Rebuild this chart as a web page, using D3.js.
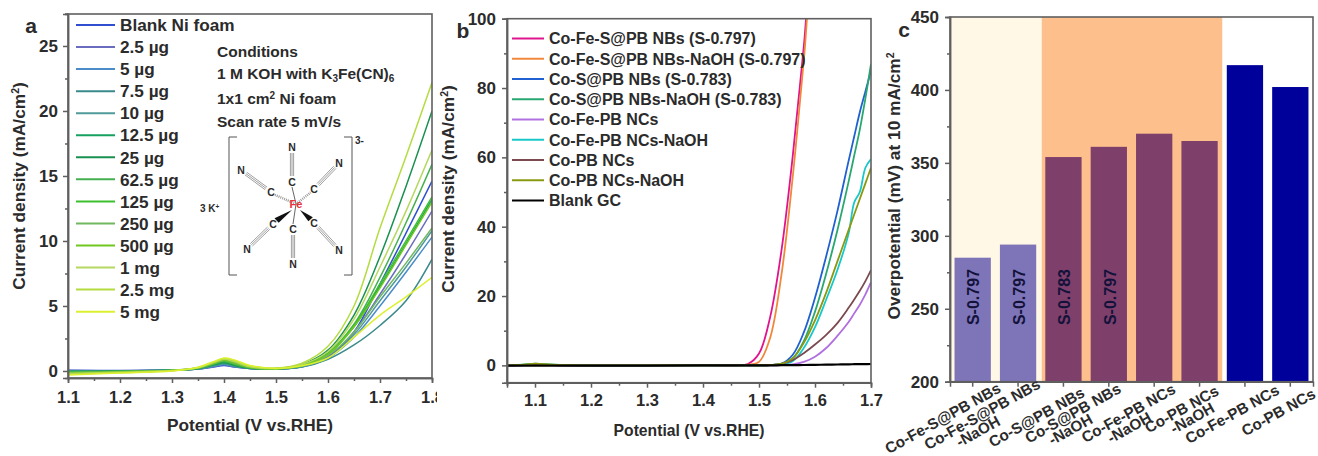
<!DOCTYPE html>
<html>
<head>
<meta charset="utf-8">
<script src="https://cdn.jsdelivr.net/npm/d3@7"></script>
<style>
  body { margin: 0; background: #fff; }
  text { font-family: "Liberation Sans", Arial, sans-serif; font-weight: bold; fill: #2b2b2b; }
  .axis path, .axis line { stroke: #5f5f5f; stroke-width: 1.5; }
  .axis text { font-family: "Liberation Sans", Arial, sans-serif; font-weight: bold; fill: #2b2b2b; }
</style>
</head>
<body>
<div id="chart"></div>
<script>

// Panel a - K3Fe(CN)6 loading series on Ni foam
var potentialA = [1.1, 1.2, 1.3, 1.35, 1.38, 1.4, 1.42, 1.45, 1.5, 1.55, 1.6, 1.65, 1.7, 1.75, 1.8];
var namesA = ["Blank Ni foam", "2.5 µg", "5 µg", "7.5 µg", "10 µg", "12.5 µg", "25 µg", "62.5 µg", "125 µg", "250 µg", "500 µg", "1 mg", "2.5 mg", "5 mg"];
var colorsA = ["#2f4fd0", "#6a6cc0", "#4a8cc8", "#3a8a8c", "#4f9a9a", "#18a060", "#1a9050", "#45b050", "#3cc030", "#70b860", "#70c820", "#b4d860", "#b4dc40", "#dcf030"];
var valuesA = [
  [0.05, 0.03, 0.08, 0.15, 0.3, 0.42, 0.3, 0.2, 0.15, 0.35, 1.0, 3.0, 6.7, 10.6, 14.6],
  [0.03, 0.02, 0.08, 0.15, 0.35, 0.5, 0.32, 0.2, 0.15, 0.35, 1.1, 3.0, 5.9, 9.0, 12.3],
  [0.02, 0.02, 0.08, 0.16, 0.35, 0.5, 0.35, 0.2, 0.15, 0.33, 1.0, 2.6, 5.0, 7.6, 10.3],
  [0.0, 0.01, 0.07, 0.16, 0.4, 0.55, 0.36, 0.2, 0.14, 0.3, 0.9, 2.0, 3.5, 5.4, 8.6],
  [0.0, 0.0, 0.07, 0.17, 0.4, 0.55, 0.38, 0.22, 0.15, 0.33, 1.0, 2.8, 5.4, 8.0, 10.8],
  [-0.03, -0.01, 0.07, 0.18, 0.45, 0.62, 0.42, 0.22, 0.16, 0.4, 1.3, 3.4, 6.5, 9.8, 13.2],
  [-0.05, -0.02, 0.06, 0.2, 0.5, 0.7, 0.45, 0.22, 0.18, 0.5, 1.6, 4.3, 8.8, 14.2, 20.0],
  [-0.07, -0.03, 0.06, 0.2, 0.52, 0.72, 0.5, 0.25, 0.17, 0.45, 1.4, 3.6, 7.2, 11.4, 15.9],
  [-0.1, -0.04, 0.05, 0.22, 0.55, 0.78, 0.55, 0.25, 0.17, 0.42, 1.3, 3.5, 6.7, 10.0, 13.4],
  [-0.12, -0.05, 0.05, 0.22, 0.58, 0.8, 0.6, 0.28, 0.17, 0.4, 1.2, 3.0, 5.7, 8.3, 11.0],
  [-0.15, -0.07, 0.04, 0.25, 0.6, 0.85, 0.65, 0.28, 0.18, 0.42, 1.3, 3.4, 6.4, 9.7, 13.0],
  [-0.2, -0.1, 0.03, 0.25, 0.65, 0.9, 0.72, 0.32, 0.2, 0.5, 1.5, 4.0, 8.0, 12.3, 17.0],
  [-0.25, -0.13, 0.02, 0.27, 0.7, 0.95, 0.8, 0.38, 0.22, 0.6, 1.9, 5.0, 11.0, 16.5, 22.2],
  [-0.3, -0.16, 0.0, 0.28, 0.72, 1.0, 0.85, 0.42, 0.2, 0.4, 1.0, 2.6, 4.3, 5.7, 7.2]
];

// Panel b - LSV curves
var potentialB = [1.05, 1.08, 1.1, 1.13, 1.2, 1.4, 1.48, 1.5, 1.52, 1.54, 1.56, 1.58, 1.6, 1.62, 1.64, 1.66, 1.67, 1.68, 1.69, 1.7];
var namesB = ["Co-Fe-S@PB NBs (S-0.797)", "Co-Fe-S@PB NBs-NaOH (S-0.797)", "Co-S@PB NBs (S-0.783)", "Co-S@PB NBs-NaOH (S-0.783)", "Co-Fe-PB NCs", "Co-Fe-PB NCs-NaOH", "Co-PB NCs", "Co-PB NCs-NaOH", "Blank GC"];
var colorsB = ["#e0148c", "#f0883c", "#2060d0", "#28a870", "#b070e0", "#18c8c8", "#7a4a50", "#8a9a10", "#000000"];
var valuesB = [
  [0, 0.1, 0.2, 0.1, 0, 0.1, 0.4, 3.4, 14, 33, 60, 92, 124, 130, 130, 130, 130, 130, 130, 130],
  [0, 0.1, 0.2, 0.1, 0, 0.1, 0.2, 1.0, 8, 26, 54, 88, 122, 130, 130, 130, 130, 130, 130, 130],
  [0, 0.1, 0.3, 0.1, 0, 0, 0, 0, 0.1, 0.5, 3, 9.5, 19.5, 31.5, 44.5, 59, 66, 73, 79, 85],
  [0, 0.2, 0.5, 0.2, 0, 0, 0, 0, 0.1, 0.4, 2, 7, 15.5, 26.5, 39, 53, 60.5, 68, 77, 87],
  [0, 0.1, 0.2, 0.1, 0, 0, 0, 0, 0, 0.1, 0.3, 1, 2.5, 5, 8.5, 12.5, 15, 17.5, 20.5, 24],
  [0, 0.2, 0.4, 0.2, 0, 0, 0, 0, 0.1, 0.3, 1.2, 5, 11, 19, 27.5, 38, 47, 50, 57, 59.5],
  [0, 0.1, 0.3, 0.1, 0, 0, 0, 0, 0.1, 0.4, 1.5, 3.5, 6, 8.8, 12.2, 16.6, 19, 21.5, 24.3, 27.5],
  [0, 0.2, 0.5, 0.2, 0, 0, 0, 0, 0.1, 0.4, 2, 6.5, 13, 21, 30, 39, 43.5, 48, 52.5, 57],
  [-0.1, -0.1, -0.1, -0.1, -0.1, 0, 0, 0, 0, 0.05, 0.08, 0.1, 0.15, 0.2, 0.25, 0.3, 0.33, 0.35, 0.37, 0.4]
];

// Panel c - overpotential bars
var categoriesC = ["Co-Fe-S@PB NBs", "Co-Fe-S@PB NBs-NaOH", "Co-S@PB NBs", "Co-S@PB NBs-NaOH", "Co-Fe-PB NCs-NaOH", "Co-PB NCs-NaOH", "Co-Fe-PB NCs", "Co-PB NCs"];
var overpotentials = [285, 294, 354, 361, 370, 365, 417, 402];
var barNotes = ["S-0.797", "S-0.797", "S-0.783", "S-0.797", "", "", "", ""];
var barColors = ["#7e74b8", "#7e74b8", "#7f3f6b", "#7f3f6b", "#7f3f6b", "#7f3f6b", "#00009a", "#00009a"];

var svg = d3.select("#chart").append("svg")
  .attr("width", 1318)
  .attr("height", 456);

var defs = svg.append("defs");

// draws the frame, ticks (major + minor) and returns nothing
function drawFrame(g, w, h, xScale, yScale, xMajor, xMinor, yMajor, yMinor, xFormat, xPad, yPad) {
  g.append("g").attr("class", "axis")
    .attr("transform", `translate(0, ${h})`)
    .call(d3.axisBottom(xScale).tickValues(xMinor).tickSize(3).tickFormat(""));
  g.append("g").attr("class", "axis")
    .call(d3.axisLeft(yScale).tickValues(yMinor).tickSize(3).tickFormat(""));

  var xAxis = g.append("g").attr("class", "axis")
    .attr("transform", `translate(0, ${h})`)
    .call(d3.axisBottom(xScale).tickValues(xMajor).tickSize(5).tickPadding(xPad).tickFormat(xFormat));
  xAxis.selectAll("text").style("font-size", "16.5px");

  var yAxis = g.append("g").attr("class", "axis")
    .call(d3.axisLeft(yScale).tickValues(yMajor).tickSize(5).tickPadding(yPad));
  yAxis.selectAll("text").style("font-size", "17px");

  g.append("rect")
    .attr("width", w)
    .attr("height", h)
    .attr("fill", "none")
    .attr("stroke", "#5f5f5f")
    .attr("stroke-width", 1.6);
}

function drawCurves(g, potentials, values, colors, xScale, yScale, clipId, width) {
  var line = d3.line()
    .x((d, i) => xScale(potentials[i]))
    .y(d => yScale(d))
    .curve(d3.curveCatmullRom.alpha(0.5));

  g.append("g")
    .attr("clip-path", `url(#${clipId})`)
    .selectAll("path")
    .data(values)
    .enter()
    .append("path")
    .attr("d", line)
    .attr("fill", "none")
    .attr("stroke", (d, i) => colors[i])
    .attr("stroke-width", (d, i) => colors[i] === "#000000" ? 2.2 : width);
}

function drawLegend(g, names, colors, x1, x2, textX, y0, step, size) {
  var rows = g.selectAll(".row")
    .data(names)
    .enter()
    .append("g")
    .attr("transform", (d, i) => `translate(0, ${y0 + i * step})`);

  rows.append("line")
    .attr("x1", x1)
    .attr("x2", x2)
    .attr("stroke", (d, i) => colors[i])
    .attr("stroke-width", 2);

  rows.append("text")
    .attr("x", textX)
    .attr("dy", "0.36em")
    .style("font-size", size + "px")
    .text(d => d);
}

function addClip(id, w, h) {
  defs.append("clipPath").attr("id", id)
    .append("rect").attr("width", w).attr("height", h);
}

/*
 * PANEL A
 */
var chartA = svg.append("g").attr("transform", "translate(68, 14)");
var wA = 364, hA = 364;
var xA = d3.scaleLinear().domain([1.1, 1.8]).range([0, wA]);
var yA = d3.scaleLinear().domain([-0.54, 27.46]).range([hA, 0]);

// the 1.8 label gets cut by panel b in the figure
defs.append("clipPath").attr("id", "cutA")
  .append("rect").attr("x", -68).attr("y", -14).attr("width", 505 - 68).attr("height", 456);
var groupA = chartA.append("g").attr("clip-path", "url(#cutA)");
addClip("plotA", wA, hA);

drawCurves(groupA, potentialA, valuesA, colorsA, xA, yA, "plotA", 1.5);
drawFrame(groupA, wA, hA, xA, yA,
  [1.1, 1.2, 1.3, 1.4, 1.5, 1.6, 1.7, 1.8],
  [1.15, 1.25, 1.35, 1.45, 1.55, 1.65, 1.75],
  [0, 5, 10, 15, 20, 25],
  [2.5, 7.5, 12.5, 17.5, 22.5, 27.5],
  d3.format(".1f"), 8, 5);

drawLegend(svg.append("g"), namesA, colorsA, 76, 115, 120, 25, 22.05, 17.2);

svg.append("text").attr("x", 250).attr("y", 431).attr("text-anchor", "middle")
  .style("font-size", "17.3px").text("Potential (V vs.RHE)");
var titleA = svg.append("text").attr("text-anchor", "middle")
  .attr("transform", "translate(25, 186) rotate(-90)")
  .style("font-size", "17.3px");
titleA.append("tspan").text("Current density (mA/cm");
titleA.append("tspan").attr("dy", -6).style("font-size", "10.5px").text("2");
titleA.append("tspan").attr("dy", 6).text(")");
svg.append("text").attr("x", 31).attr("y", 33).attr("text-anchor", "middle")
  .style("font-size", "21px").text("a");

// conditions block
var conditions = svg.append("g");
conditions.append("text").attr("x", 217).attr("y", 57).style("font-size", "15.5px").text("Conditions");
var c2 = conditions.append("text").attr("x", 217).attr("y", 79).style("font-size", "15.5px");
c2.append("tspan").text("1 M KOH with K");
c2.append("tspan").attr("dy", 3).style("font-size", "10px").text("3");
c2.append("tspan").attr("dy", -3).text("Fe(CN)");
c2.append("tspan").attr("dy", 3).style("font-size", "10px").text("6");
var c3 = conditions.append("text").attr("x", 217).attr("y", 104).style("font-size", "15.5px");
c3.append("tspan").text("1x1 cm");
c3.append("tspan").attr("dy", -5).style("font-size", "10px").text("2");
c3.append("tspan").attr("dy", 5).text(" Ni foam");
conditions.append("text").attr("x", 217).attr("y", 127).style("font-size", "15.5px").text("Scan rate 5 mV/s");

// K3Fe(CN)6 structure sketch
var mol = svg.append("g");
var ink = "#777";
var fe = [296, 204];
var bonds = [
  { c: [292, 182], n: [292, 147], kind: "line" },
  { c: [314, 189], n: [339, 163], kind: "hash" },
  { c: [271, 192], n: [241, 170], kind: "hash" },
  { c: [273, 224], n: [247, 249], kind: "wedge" },
  { c: [293, 229], n: [293, 264], kind: "line" },
  { c: [314, 223], n: [339, 250], kind: "wedge" }
];
bonds.forEach(function(b) {
  var dx = b.n[0] - b.c[0], dy = b.n[1] - b.c[1], len = Math.hypot(dx, dy);
  var ux = dx / len, uy = dy / len;
  [-1.6, 0, 1.6].forEach(function(o) {
    mol.append("line")
      .attr("x1", b.c[0] + ux * 6 - uy * o).attr("y1", b.c[1] + uy * 6 + ux * o)
      .attr("x2", b.n[0] - ux * 6 - uy * o).attr("y2", b.n[1] - uy * 6 + ux * o)
      .attr("stroke", ink).attr("stroke-width", 0.7);
  });
  if (b.kind === "wedge") {
    mol.append("path")
      .attr("d", `M${fe[0] + (b.c[0] > fe[0] ? 4 : -4)},${fe[1] + 6}L${b.c[0] - uy * 3 - ux * 5},${b.c[1] + ux * 3 - uy * 5}L${b.c[0] + uy * 3 - ux * 5},${b.c[1] - ux * 3 - uy * 5}Z`)
      .attr("fill", "#111");
  } else {
    mol.append("line")
      .attr("x1", fe[0]).attr("y1", fe[1])
      .attr("x2", b.c[0] - ux * 5).attr("y2", b.c[1] - uy * 5)
      .attr("stroke", b.kind === "hash" ? "#999" : "#666")
      .attr("stroke-width", b.kind === "hash" ? 2.5 : 1)
      .attr("stroke-dasharray", b.kind === "hash" ? "1 1" : null);
  }
  mol.append("text").attr("x", b.c[0]).attr("y", b.c[1]).attr("dy", "0.36em").attr("text-anchor", "middle")
    .style("font-size", "10.5px").text("C");
  mol.append("text").attr("x", b.n[0]).attr("y", b.n[1]).attr("dy", "0.36em").attr("text-anchor", "middle")
    .style("font-size", "10.5px").text("N");
});
mol.append("text").attr("x", fe[0]).attr("y", fe[1]).attr("dy", "0.36em").attr("text-anchor", "middle")
  .style("font-size", "11px").style("fill", "#e8343c").text("Fe");
mol.append("path").attr("d", "M237,137H229V275H237M344,137H352V275H344")
  .attr("fill", "none").attr("stroke", "#555").attr("stroke-width", 1);
mol.append("text").attr("x", 355).attr("y", 144).style("font-size", "10px").text("3-");
var kPlus = mol.append("text").attr("x", 200).attr("y", 212).style("font-size", "10px");
kPlus.append("tspan").text("3 K");
kPlus.append("tspan").attr("dy", -3).style("font-size", "6.5px").text("+");

/*
 * PANEL B
 */
var chartB = svg.append("g").attr("transform", "translate(507, 18.7)");
var wB = 364, hB = 364;
var xB = d3.scaleLinear().domain([1.05, 1.7]).range([0, wB]);
var yB = d3.scaleLinear().domain([-5, 100]).range([hB, 0]);
addClip("plotB", wB, hB);

drawCurves(chartB, potentialB, valuesB, colorsB, xB, yB, "plotB", 1.8);
drawFrame(chartB, wB, hB, xB, yB,
  [1.1, 1.2, 1.3, 1.4, 1.5, 1.6, 1.7],
  [1.05, 1.15, 1.25, 1.35, 1.45, 1.55, 1.65],
  [0, 20, 40, 60, 80, 100],
  [10, 30, 50, 70, 90],
  d3.format(".1f"), 7, 6);

drawLegend(svg.append("g"), namesB, colorsB, 512, 544, 549, 38.5, 20.25, 16);

svg.append("text").attr("x", 689).attr("y", 435.5).attr("text-anchor", "middle")
  .style("font-size", "15.7px").text("Potential (V vs.RHE)");
var titleB = svg.append("text").attr("text-anchor", "middle")
  .attr("transform", "translate(454, 189) rotate(-90)")
  .style("font-size", "17.3px");
titleB.append("tspan").text("Current density (mA/cm");
titleB.append("tspan").attr("dy", -6).style("font-size", "10.5px").text("2");
titleB.append("tspan").attr("dy", 6).text(")");
svg.append("text").attr("x", 463).attr("y", 38).attr("text-anchor", "middle")
  .style("font-size", "21px").text("b");

/*
 * PANEL C
 */
var chartC = svg.append("g").attr("transform", "translate(950, 17)");
var wC = 363, hC = 364.7;
var xC = d3.scaleBand().domain(d3.range(categoriesC.length)).range([0, wC]).paddingInner(0.2).paddingOuter(0.1);
var yC = d3.scaleLinear().domain([200, 450]).range([hC, 0]);
var stepC = xC.step();

// shaded regions behind the bars, two bars cream and four bars peach
chartC.append("rect").attr("x", 0).attr("width", stepC * 2 + 1).attr("height", hC).attr("fill", "#fff8e6");
chartC.append("rect").attr("x", stepC * 2 + 1).attr("width", stepC * 4 - 1).attr("height", hC).attr("fill", "#fdbf8c");

chartC.selectAll(".bar")
  .data(overpotentials)
  .enter()
  .append("rect")
  .attr("x", (d, i) => xC(i))
  .attr("y", d => yC(d))
  .attr("width", xC.bandwidth())
  .attr("height", d => hC - yC(d))
  .attr("fill", (d, i) => barColors[i]);

chartC.selectAll(".note")
  .data(barNotes)
  .enter()
  .append("text")
  .attr("transform", (d, i) => `translate(${xC(i) + xC.bandwidth() / 2 + 1}, ${yC(258)}) rotate(-90)`)
  .attr("dy", "0.36em")
  .attr("text-anchor", "middle")
  .style("font-size", "16px")
  .style("fill", "#12123a")
  .text(d => d);

var yAxisC = chartC.append("g").attr("class", "axis")
  .call(d3.axisLeft(yC).tickValues([200, 250, 300, 350, 400, 450]).tickSize(5).tickPadding(6));
yAxisC.selectAll("text").style("font-size", "17px");
chartC.append("g").attr("class", "axis")
  .call(d3.axisLeft(yC).tickValues([225, 275, 325, 375, 425]).tickSize(3).tickFormat(""));

var xAxisC = chartC.append("g").attr("class", "axis")
  .attr("transform", `translate(0, ${hC})`)
  .call(d3.axisBottom(xC).tickSize(5).tickFormat(""));

chartC.append("rect")
  .attr("width", wC)
  .attr("height", hC)
  .attr("fill", "none")
  .attr("stroke", "#5f5f5f")
  .attr("stroke-width", 1.6);

// rotated category labels, the -NaOH part goes on its own line
var labelDx = [-30, -36, -27, -36, -26, -18, -13, -12];
var labelY = [418, 414, 417, 413, 413, 409, 414, 412];
var naohDx = [0, -12, 0, -10, -6, 5, 0, 0];

categoriesC.forEach(function(name, i) {
  var parts = name.split("-NaOH");
  var place = `translate(${950 + xC(i) + xC.bandwidth() / 2 + labelDx[i]}, ${labelY[i]}) rotate(-29)`;
  svg.append("text")
    .attr("transform", place)
    .attr("text-anchor", "middle")
    .attr("dy", "0.36em")
    .style("font-size", "15.3px")
    .text(parts[0]);
  if (name.indexOf("-NaOH") > -1) {
    svg.append("text")
      .attr("transform", place)
      .attr("x", naohDx[i])
      .attr("y", 13)
      .attr("text-anchor", "middle")
      .attr("dy", "0.36em")
      .style("font-size", "15.3px")
      .text("-NaOH");
  }
});

var titleC = svg.append("text").attr("text-anchor", "middle")
  .attr("transform", "translate(900, 186) rotate(-90)")
  .style("font-size", "17.3px");
titleC.append("tspan").text("Overpotential (mV) at 10 mA/cm");
titleC.append("tspan").attr("dy", -6).style("font-size", "10.5px").text("2");
svg.append("text").attr("x", 904).attr("y", 37).attr("text-anchor", "middle")
  .style("font-size", "21px").text("c");

</script>
</body>
</html>
